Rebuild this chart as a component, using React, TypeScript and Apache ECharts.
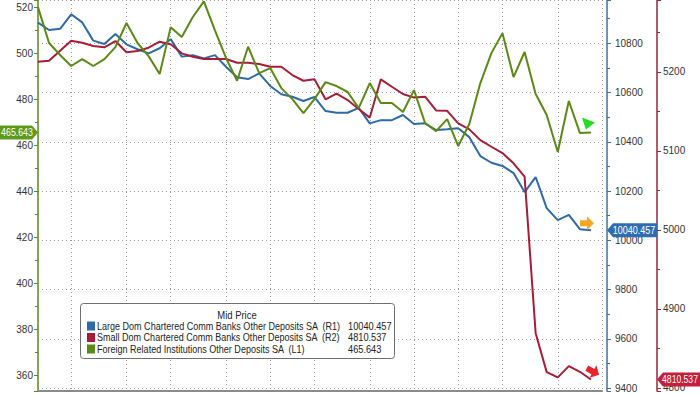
import React, { useEffect, useRef } from "react";
import * as echarts from "echarts";

// Weekly observations (Wednesdays); the last category is an empty slot at the right edge
const dates = [
  "2022-05-11", "2022-05-18", "2022-05-25", "2022-06-01", "2022-06-08", "2022-06-15", "2022-06-22", "2022-06-29",
  "2022-07-06", "2022-07-13", "2022-07-20", "2022-07-27", "2022-08-03", "2022-08-10", "2022-08-17", "2022-08-24",
  "2022-08-31", "2022-09-07", "2022-09-14", "2022-09-21", "2022-09-28", "2022-10-05", "2022-10-12", "2022-10-19",
  "2022-10-26", "2022-11-02", "2022-11-09", "2022-11-16", "2022-11-23", "2022-11-30", "2022-12-07", "2022-12-14",
  "2022-12-21", "2022-12-28", "2023-01-04", "2023-01-11", "2023-01-18", "2023-01-25", "2023-02-01", "2023-02-08",
  "2023-02-15", "2023-02-22", "2023-03-01", "2023-03-08", "2023-03-15", "2023-03-22", "2023-03-29", "2023-04-05",
  "2023-04-12", "2023-04-19", "2023-04-26", "2023-05-03",
];

const largeBanks = [
  10884, 10854, 10859, 10918, 10885, 10811, 10797, 10838, 10796, 10776,
  10759, 10780, 10817, 10746, 10752, 10739, 10752, 10705, 10662, 10655,
  10678, 10627, 10593, 10583, 10566, 10582, 10525, 10518, 10518, 10538,
  10475, 10488, 10488, 10509, 10472, 10475, 10448, 10451, 10455, 10419,
  10342, 10315, 10302, 10273, 10196, 10257, 10131, 10082, 10103, 10045,
  10040.457,
];

const smallBanks = [
  5212.7, 5213.9, 5226.6, 5239.2, 5236.7, 5232.5, 5230.9, 5238.9, 5224.6, 5226.2,
  5230.4, 5238.0, 5234.7, 5223.3, 5219.0, 5216.1, 5216.1, 5216.1, 5211.4, 5211.4,
  5209.7, 5206.3, 5206.3, 5195.8, 5188.6, 5190.4, 5165.1, 5172.2, 5164.2, 5152.8,
  5142.0, 5190.4, 5181.0, 5171.8, 5167.3, 5168.4, 5151.1, 5150.6, 5134.7, 5127.1,
  5113.5, 5105.1, 5097.1, 5084.1, 5067.3, 4869.2, 4819.9, 4813.2, 4827.5, 4820.3,
  4810.537,
];

const foreignInst = [
  520.1, 504.5, 499.3, 494.5, 497.5, 494.5, 497.5, 502.7, 513.2, 504.5,
  498.8, 491.0, 511.4, 507.1, 515.8, 522.6, 510.0, 498.0, 488.1, 502.9,
  491.4, 493.6, 484.9, 480.1, 474.0, 480.1, 487.5, 485.8, 483.2, 476.2,
  487.1, 478.4, 478.4, 474.5, 484.0, 469.7, 466.2, 471.4, 459.7, 469.3,
  487.1, 500.1, 508.8, 489.7, 500.6, 482.3, 473.2, 457.1, 479.3, 465.4,
  465.643,
];

const seriesNames = [
  "Large Dom Chartered Comm Banks Other Deposits SA",
  "Small Dom Chartered Comm Banks Other Deposits SA",
  "Foreign Related Institutions Other Deposits SA",
];
const axisTags = ["(R1)", "(R2)", "(L1)"];
const lastLabels = ["10040.457", "4810.537", "465.643"];
const legendTitle = "Mid Price";

const FONT = '"Liberation Sans", Arial, sans-serif';
const BLUE = "#2d6aa6";
const RED = "#a81c37";
const GREEN = "#5a8a14";

export default function App() {
  const ref = useRef<HTMLDivElement>(null);

  useEffect(() => {
    if (!ref.current) return;
    const chart = echarts.init(ref.current, null, { renderer: "svg" });
    const labelStyle = { fontFamily: FONT, fontSize: 10, color: "#333" };
    const dotted = { color: "#9a9a9a", type: [1, 3] as any, width: 1 };

    const series = [largeBanks, smallBanks, foreignInst];
    const colors = [BLUE, RED, GREEN];
    const axisIdx = [1, 2, 0];

    chart.setOption({
      animation: false,
      backgroundColor: "#ffffff",
      textStyle: { fontFamily: FONT },
      grid: { left: 38, right: 98, top: 0, bottom: 3, containLabel: false },
      xAxis: {
        type: "category",
        data: dates,
        boundaryGap: false,
        axisLine: { show: true, onZero: false, lineStyle: { color: "#8a8a8a", width: 2 } },
        axisTick: { show: false },
        axisLabel: { show: false },
        splitLine: {
          show: true,
          interval: (_i: number, v: string) => Number(String(v).slice(8, 10)) <= 7,
          lineStyle: dotted,
        },
      },
      yAxis: [
        {
          type: "value",
          position: "left",
          min: 353.2,
          max: 523.2,
          splitNumber: 8,
          axisLine: { show: true, lineStyle: { color: GREEN, width: 1.5 } },
          axisTick: { show: true, length: 4, lineStyle: { color: GREEN } },
          minorTick: { show: true, splitNumber: 2, length: 3, lineStyle: { color: GREEN } },
          axisLabel: {
            ...labelStyle,
            margin: 5,
            formatter: (v: number) => (Math.abs(v % 20) < 1e-6 ? String(v) : ""),
          },
          splitLine: { show: false },
        },
        {
          type: "value",
          position: "right",
          offset: 5,
          min: 9388,
          max: 10976,
          splitNumber: 8,
          axisLine: { show: true, lineStyle: { color: "#41709c", width: 1.5 } },
          axisTick: { show: true, length: 4, lineStyle: { color: "#41709c" } },
          minorTick: { show: true, splitNumber: 2, length: 3, lineStyle: { color: "#41709c" } },
          axisLabel: {
            ...labelStyle,
            margin: 8,
            formatter: (v: number) => (Math.abs(v % 200) < 1e-6 ? String(v) : ""),
          },
          splitLine: { show: true, lineStyle: dotted },
        },
        {
          type: "value",
          position: "right",
          offset: 55,
          min: 4796,
          max: 5290.8,
          splitNumber: 5,
          axisLine: { show: true, lineStyle: { color: "#8d2a3e", width: 1.5 } },
          axisTick: { show: true, length: 4, lineStyle: { color: "#b0203a" } },
          minorTick: { show: true, splitNumber: 2, length: 3, lineStyle: { color: "#8d2a3e" } },
          axisLabel: {
            ...labelStyle,
            margin: 6,
            formatter: (v: number) => (Math.abs(v % 100) < 1e-6 ? String(v) : ""),
          },
          splitLine: { show: false },
        },
      ],
      series: series.map((d, k) => ({
        name: seriesNames[k],
        type: "line",
        yAxisIndex: axisIdx[k],
        data: d,
        showSymbol: false,
        symbol: "none",
        lineStyle: { color: colors[k], width: 2 },
        itemStyle: { color: colors[k] },
        z: 3 + k,
      })),
    });

    const last = largeBanks.length - 1;
    const pB = chart.convertToPixel({ seriesIndex: 0 }, [last, largeBanks[last]]) as number[];
    const pR = chart.convertToPixel({ seriesIndex: 1 }, [last, smallBanks[last]]) as number[];
    const pG = chart.convertToPixel({ seriesIndex: 2 }, [last, foreignInst[last]]) as number[];
    const tagFont = `10px ${FONT}`;
    const legFont = `10.5px ${FONT}`;

    const rot = (pts: number[][], ang: number, cx: number, cy: number) =>
      pts.map(([x, y]) => [cx + x * Math.cos(ang) - y * Math.sin(ang), cy + x * Math.sin(ang) + y * Math.cos(ang)]);
    const arrow = [[-7, -3], [0, -3], [0, -7], [7, 0], [0, 7], [0, 3], [-7, 3]];

    // legend box (drawn as graphic so that the condensed Bloomberg layout fits)
    const LX = 80, LY = 303, LW = 314, LH = 55;
    const rowY = [326, 337.5, 349];
    const legendEls: any[] = [
      {
        type: "rect", z: 90,
        shape: { x: LX + 0.5, y: LY + 0.5, width: LW, height: LH, r: 3 },
        style: { fill: "#ffffff", stroke: "#6e6e6e", lineWidth: 1 },
      },
      {
        type: "text", z: 100, x: 237, y: 315, scaleX: 0.9,
        style: { text: legendTitle, fill: "#222", font: legFont, align: "center", verticalAlign: "middle" },
      },
    ];
    seriesNames.forEach((nm, k) => {
      legendEls.push(
        {
          type: "rect", z: 100,
          shape: { x: 87, y: rowY[k] - 4.5, width: 8, height: 9 },
          style: { fill: colors[k] },
        },
        {
          type: "text", z: 100, x: 97, y: rowY[k], scaleX: 0.86,
          style: { text: `${nm}  ${axisTags[k]}`, fill: "#222", font: legFont, align: "left", verticalAlign: "middle" },
        },
        {
          type: "text", z: 100, x: 348, y: rowY[k], scaleX: 0.88,
          style: { text: lastLabels[k], fill: "#222", font: legFont, align: "left", verticalAlign: "middle" },
        }
      );
    });

    chart.setOption({
      graphic: [
        ...legendEls,
        // value tag for L1
        {
          type: "polygon", z: 100,
          shape: { points: [[0, pG[1] - 7], [32, pG[1] - 7], [38, pG[1]], [32, pG[1] + 7], [0, pG[1] + 7]] },
          style: { fill: "#5d9a1c" },
        },
        {
          type: "text", z: 101, x: 17, y: pG[1], scaleX: 0.88,
          style: { text: lastLabels[2], fill: "#fff", font: tagFont, align: "center", verticalAlign: "middle" },
        },
        // value tag for R1
        {
          type: "polygon", z: 100,
          shape: { points: [[607, pB[1]], [613, pB[1] - 7], [657, pB[1] - 7], [657, pB[1] + 7], [613, pB[1] + 7]] },
          style: { fill: "#2e6eb0" },
        },
        {
          type: "text", z: 101, x: 634, y: pB[1], scaleX: 0.9,
          style: { text: lastLabels[0], fill: "#fff", font: tagFont, align: "center", verticalAlign: "middle" },
        },
        // value tag for R2
        {
          type: "polygon", z: 100,
          shape: { points: [[657, pR[1]], [663, pR[1] - 7], [700, pR[1] - 7], [700, pR[1] + 7], [663, pR[1] + 7]] },
          style: { fill: "#c41f3a" },
        },
        {
          type: "text", z: 101, x: 680, y: pR[1], scaleX: 0.86,
          style: { text: lastLabels[1], fill: "#fff", font: tagFont, align: "center", verticalAlign: "middle" },
        },
        // trend markers
        {
          type: "polygon", z: 100,
          shape: { points: [[pG[0] - 9, pG[1] - 15], [pG[0] + 4, pG[1] - 10], [pG[0] - 5, pG[1] - 3]] },
          style: { fill: "#22dd22" },
        },
        {
          type: "polygon", z: 100,
          shape: { points: rot(arrow, 0, pB[0] - 4, pB[1] - 7) },
          style: { fill: "#f5a623" },
        },
        {
          type: "polygon", z: 100,
          shape: { points: rot(arrow, 0.5, pR[0] + 2, pR[1] - 8) },
          style: { fill: "#e8232a" },
        },
      ],
    });

    return () => chart.dispose();
  }, []);

  return <div ref={ref} style={{ width: 700, height: 394, position: "absolute", left: 0, top: 0 }} />;
}
